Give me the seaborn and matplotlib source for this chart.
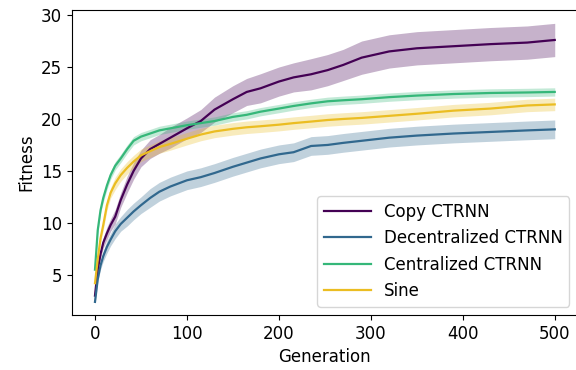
import numpy as np
import pandas as pd
import matplotlib
matplotlib.use("Agg")
import matplotlib.pyplot as plt
import seaborn as sns

generations = [0, 3, 6, 9, 13, 17, 22, 28, 35, 42, 50, 60, 70, 82, 100, 115, 130,
               150, 165, 180, 200, 216, 235, 253, 270, 290, 320, 350, 390, 430, 470, 500]

copy_ctrnn = [3.0, 5.5, 7.0, 8.1, 9.0, 9.8, 10.6, 12.2, 13.7, 15.0, 16.2, 17.1, 17.6, 18.2,
              19.1, 19.8, 20.9, 21.9, 22.6, 22.95, 23.6, 24.0, 24.3, 24.7, 25.2, 25.9,
              26.5, 26.8, 27.0, 27.2, 27.35, 27.6]
copy_err = [0.2, 0.3, 0.4, 0.5, 0.6, 0.6, 0.7, 0.7, 0.8, 0.8, 0.8, 0.9, 0.9, 1.0,
            1.0, 1.1, 1.2, 1.3, 1.3, 1.4, 1.4, 1.4, 1.5, 1.5, 1.5, 1.6,
            1.6, 1.6, 1.6, 1.6, 1.6, 1.6]

decentralized = [2.4, 4.6, 5.9, 6.8, 7.7, 8.4, 9.2, 9.9, 10.5, 11.1, 11.7, 12.4, 13.0, 13.5,
                 14.1, 14.4, 14.8, 15.4, 15.8, 16.2, 16.6, 16.8, 17.4, 17.5, 17.7, 17.9,
                 18.2, 18.4, 18.6, 18.75, 18.9, 19.0]
decentralized_err = [0.2, 0.3, 0.4, 0.5, 0.6, 0.6, 0.7, 0.7, 0.8, 0.8, 0.8, 0.9, 0.9, 0.9,
                     0.9, 0.9, 0.9, 0.9, 0.9, 0.9, 0.9, 0.9, 0.9, 0.9, 0.9, 0.9,
                     0.9, 0.9, 0.9, 0.9, 0.9, 0.9]

centralized = [5.5, 9.3, 11.2, 12.4, 13.6, 14.6, 15.5, 16.2, 17.1, 17.9, 18.3, 18.6, 18.9, 19.1,
               19.4, 19.6, 19.8, 20.2, 20.4, 20.7, 21.0, 21.25, 21.5, 21.7, 21.8, 21.9,
               22.1, 22.25, 22.4, 22.5, 22.55, 22.6]
centralized_err = [0.2, 0.3, 0.3, 0.4, 0.4, 0.4, 0.4, 0.4, 0.4, 0.4, 0.4, 0.4, 0.4, 0.4,
                   0.4, 0.4, 0.4, 0.4, 0.4, 0.4, 0.4, 0.4, 0.4, 0.4, 0.4, 0.4,
                   0.4, 0.4, 0.4, 0.4, 0.4, 0.4]

sine = [4.2, 6.5, 8.5, 9.8, 11.7, 12.9, 13.8, 14.6, 15.3, 15.9, 16.5, 16.9, 17.3, 17.6,
        18.1, 18.5, 18.8, 19.05, 19.2, 19.3, 19.45, 19.6, 19.75, 19.9, 20.0, 20.1,
        20.3, 20.5, 20.8, 21.0, 21.3, 21.4]
sine_err = [0.2, 0.3, 0.4, 0.5, 0.5, 0.5, 0.6, 0.6, 0.6, 0.6, 0.6, 0.6, 0.6, 0.6,
            0.6, 0.6, 0.6, 0.6, 0.6, 0.6, 0.6, 0.6, 0.6, 0.6, 0.6, 0.6,
            0.6, 0.6, 0.6, 0.6, 0.6, 0.6]

labels = ["Copy CTRNN", "Decentralized CTRNN", "Centralized CTRNN", "Sine"]
colors = ["#440154", "#31688e", "#35b779", "#ebbd22"]
means = [copy_ctrnn, decentralized, centralized, sine]
errs = [copy_err, decentralized_err, centralized_err, sine_err]

rows = []
for lab, m, e in zip(labels, means, errs):
    for g, v, s in zip(generations, m, e):
        rows.append({"Generation": g, "Fitness": v, "lo": v - s, "hi": v + s, "Method": lab})
df = pd.DataFrame(rows)

plt.rcParams["font.size"] = 12
plt.rcParams["font.family"] = ["DejaVu Sans"]

fig = plt.figure(figsize=(5.76, 3.70), dpi=100)
ax = fig.add_axes([0.125, 0.149, 0.878, 0.823])

for lab, c in zip(labels, colors):
    sub = df[df["Method"] == lab]
    ax.fill_between(sub["Generation"], sub["lo"], sub["hi"], color=c, alpha=0.3, linewidth=0)

sns.lineplot(data=df, x="Generation", y="Fitness", hue="Method", hue_order=labels,
             palette=colors, linewidth=1.6, ax=ax, estimator=None, sort=True)

ax.set_xlim(-25, 525)
ax.set_ylim(1.15, 30.45)
ax.set_xticks([0, 100, 200, 300, 400, 500])
ax.set_yticks([5, 10, 15, 20, 25, 30])
ax.set_xlabel("Generation", fontsize=12)
ax.set_ylabel("Fitness", fontsize=12)
ax.tick_params(labelsize=12)
ax.spines["right"].set_visible(False)
ax.legend(loc="lower right", fontsize=12, title=None, handlelength=2.8)

fig.savefig("out.png", dpi=100)
